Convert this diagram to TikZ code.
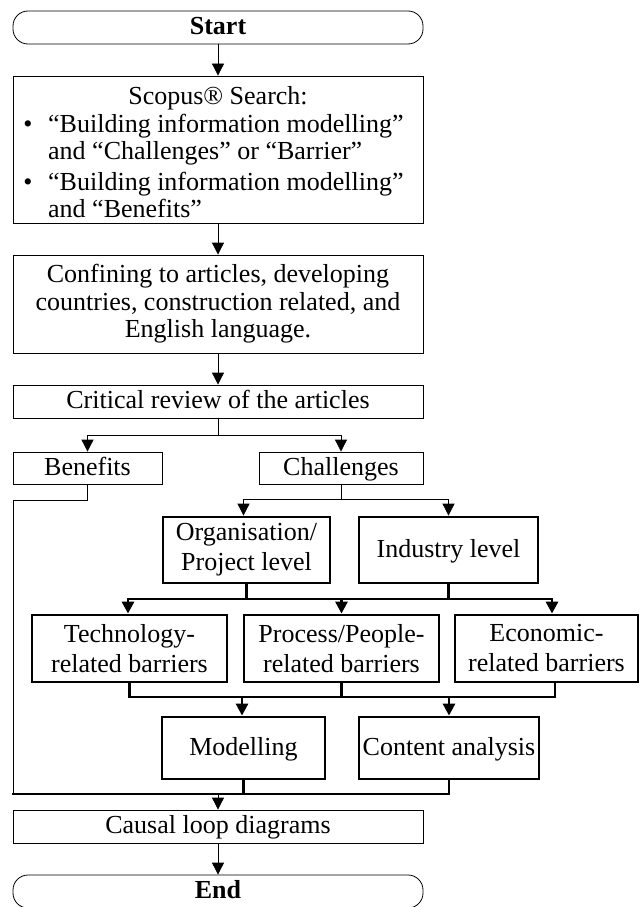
\documentclass[tikz,border=0pt]{standalone}
\usepackage{fontspec}
\setmainfont{Liberation Serif}
\usetikzlibrary{arrows.meta}
\begin{document}
\begin{tikzpicture}[x=1pt,y=-1pt,
  thinbox/.style={draw, line width=0.8pt, inner sep=0pt, align=center, font=\fontsize{26}{27.5}\selectfont},
  thickbox/.style={draw, line width=2.8pt, inner sep=0pt, align=center, font=\fontsize{26}{30}\selectfont},
  oneline/.style={text height=19pt, text depth=5pt},
  txt/.style={inner sep=0pt, font=\fontsize{26}{27.5}\selectfont},
  thinline/.style={line width=0.8pt},
  thickline/.style={line width=2.8pt},
  tip/.style={-{Triangle[width=12pt,length=12pt]}},
  terminal/.style={thinbox, oneline, rounded corners=15pt, minimum width=410pt, minimum height=33pt}
]
\useasboundingbox (0,0) rectangle (641,907);

% boxes
\node[terminal] (start) at (218,27.5) {\bfseries Start};
\node[thinbox, minimum width=410pt, minimum height=147pt] (scopus) at (218,149.5) {};
\node[txt, anchor=base] (s0) at (218,104) {Scopus® Search:};
\node[txt, anchor=base] (b1) at (28,132) {•};
\node[txt, anchor=base west] (s1) at (48,132) {“Building information modelling”};
\node[txt, anchor=base west] (s2) at (48,159) {and “Challenges” or “Barrier”};
\node[txt, anchor=base] (b2) at (28,190) {•};
\node[txt, anchor=base west] (s3) at (48,190) {“Building information modelling”};
\node[txt, anchor=base west] (s4) at (48,217) {and “Benefits”};

\node[thinbox, minimum width=410pt, minimum height=98pt] (confine) at (218,304)
  {Confining to articles, developing\\countries, construction related, and\\English language.};
\node[thinbox, oneline, minimum width=410pt, minimum height=33pt] (critical) at (218,401.5) {Critical review of the articles};
\node[thinbox, oneline, minimum width=149pt, minimum height=32pt] (benefits) at (87.5,468) {Benefits};
\node[thinbox, oneline, minimum width=164pt, minimum height=32pt] (challenges) at (341,468) {Challenges};

\node[thickbox, minimum width=167pt, minimum height=66pt] (org) at (246.5,550) {Organisation/\\Project level};
\node[thickbox, oneline, minimum width=179pt, minimum height=66pt] (industry) at (448.5,550) {Industry level};

\node[thickbox, minimum width=195pt, minimum height=67pt] (tech) at (129.5,648.5) {Technology-\\related barriers};
\node[thickbox, minimum width=195pt, minimum height=67pt] (process) at (341.5,648.5) {Process/People-\\related barriers};
\node[thickbox, minimum width=183pt, minimum height=67pt] (econ) at (546.5,648.5) {Economic-\\related barriers};

\node[thickbox, oneline, minimum width=163pt, minimum height=62pt] (modelling) at (243.5,748) {Modelling};
\node[thickbox, oneline, minimum width=180pt, minimum height=62pt] (content) at (449,748) {Content analysis};

\node[thinbox, oneline, minimum width=410pt, minimum height=33pt] (causal) at (218,826.5) {Causal loop diagrams};
\node[terminal] (end) at (218,891.5) {\bfseries End};

% coordinates
\coordinate (j1) at (218,435);
\coordinate (bl1) at (13,500);
\coordinate (j4) at (341,499);
\coordinate (bus1L) at (128,599);
\coordinate (bus1R) at (552,599);
\coordinate (bus2R) at (555,697);
\coordinate (bus3L) at (12,794);

% thin connectors
\draw[thinline,tip] (start) -- (scopus);
\draw[thinline,tip] (scopus) -- (confine);
\draw[thinline,tip] (confine) -- (critical);
\draw[thinline] (critical.south) -- (j1);
\draw[thinline,tip] (j1) -| (benefits.north);
\draw[thinline,tip] (j1) -| (challenges.north);
\draw[thinline] (benefits.south) |- (bl1) -- (bl1 |- bus3L);
\draw[thinline] (challenges.south) -- (j4);
\draw[thinline,tip] (j4) -| ([xshift=-3pt]org.north);
\draw[thinline,tip] (j4) -| (industry.north);

% thick connectors
\draw[thickline,tip] (org.south) |- (bus1L) -- (bus1L |- tech.north);
\draw[thickline,tip] (industry.south) |- (bus1R) -- (bus1R |- econ.north);
\draw[thickline] (org.south |- bus1L) -- (industry.south |- bus1L);
\draw[thickline,tip] (process.north |- bus1L) -- (process.north);

\draw[thickline] (tech.south) |- (bus2R) -- (bus2R |- econ.south);
\draw[thickline] (process.south) -- (process.south |- bus2R);
\draw[thickline,tip] ([xshift=-1.5pt]modelling.north |- bus2R) -- ([xshift=-1.5pt]modelling.north);
\draw[thickline,tip] (content.north |- bus2R) -- (content.north);

\draw[thickline] (content.south) |- (bus3L);
\draw[thickline] (modelling.south) -- (modelling.south |- bus3L);

\draw[thinline,tip] (causal.north |- bus3L) -- (causal.north);
\draw[thinline,tip] (causal) -- (end);
\end{tikzpicture}
\end{document}
